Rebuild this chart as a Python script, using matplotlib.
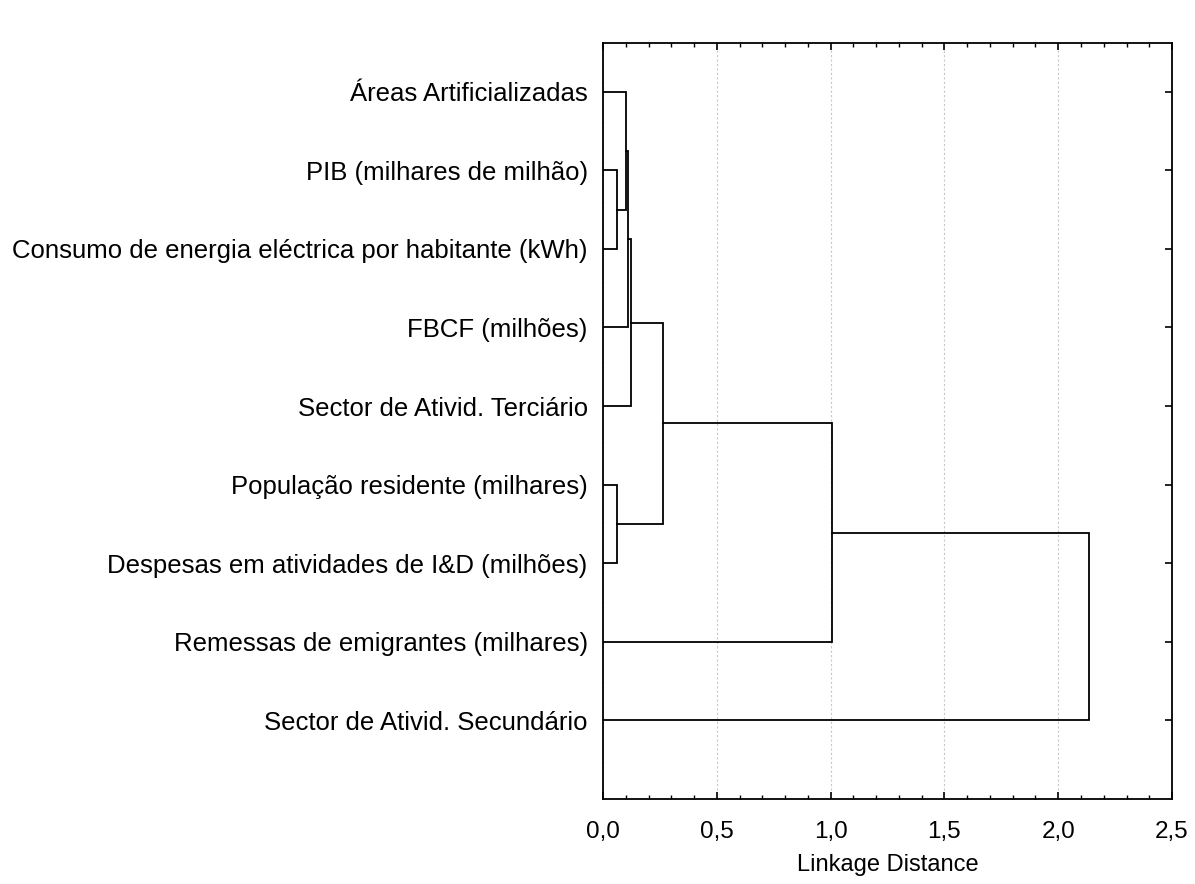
import matplotlib
matplotlib.use("Agg")
import matplotlib.pyplot as plt
from matplotlib.ticker import MultipleLocator, FuncFormatter

plt.rcParams['font.family'] = ['Liberation Sans', 'DejaVu Sans']

# Leaves, in display order (top to bottom)
labels = [
    "Áreas Artificializadas",
    "PIB (milhares de milhão)",
    "Consumo de energia eléctrica por habitante (kWh)",
    "FBCF (milhões)",
    "Sector de Ativid. Terciário",
    "População residente (milhares)",
    "Despesas em atividades de I&D (milhões)",
    "Remessas de emigrantes (milhares)",
    "Sector de Ativid. Secundário",
]

# Merges: (child a, child b, linkage distance); children >= 9 are earlier clusters
merge_a = [1, 0, 10, 11, 5, 12, 14, 15]
merge_b = [2, 9, 3, 4, 6, 13, 7, 8]
merge_dist = [0.063, 0.100, 0.112, 0.125, 0.060, 0.265, 1.005, 2.135]

xticks = [0.0, 0.5, 1.0, 1.5, 2.0, 2.5]

fig = plt.figure(figsize=(11.95, 8.84), dpi=100)
ax = fig.add_axes([0.5046, 0.0962, 0.4762, 0.8552])

n = len(labels)
ypos = {i: i + 1 for i in range(n)}
height = {i: 0.0 for i in range(n)}
for k, (a, b, d) in enumerate(zip(merge_a, merge_b, merge_dist)):
    ya, yb = ypos[a], ypos[b]
    ha, hb = height[a], height[b]
    ax.plot([ha, d, d, hb], [ya, ya, yb, yb], color='black', lw=1.3,
            solid_joinstyle='miter', zorder=3)
    ypos[n + k] = (ya + yb) / 2
    height[n + k] = d

ax.set_xlim(0, 2.5)
ax.set_ylim(10.0, 0.38)
ax.set_xticks(xticks)
ax.xaxis.set_minor_locator(MultipleLocator(0.1))
ax.xaxis.set_major_formatter(FuncFormatter(lambda v, p: f"{v:.1f}".replace('.', ',')))
ax.set_yticks(range(1, n + 1))
ax.set_yticklabels(labels)

ax.tick_params(axis='x', which='major', direction='in', top=True, bottom=True,
               length=5, width=1.2, labelsize=17.5, pad=16)
ax.tick_params(axis='x', which='minor', direction='in', top=True, bottom=True,
               length=3, width=1.0)
ax.tick_params(axis='y', which='major', direction='in', left=False, right=True,
               length=5, width=1.2, labelsize=18.5, pad=11)
ax.grid(axis='x', which='major', color='#c8c8c8', linestyle=(0, (2, 2)), lw=0.8, zorder=0)

for s in ax.spines.values():
    s.set_linewidth(1.3)

ax.set_xlabel("Linkage Distance", fontsize=17, labelpad=8)

fig.savefig("out.png", dpi=100)
